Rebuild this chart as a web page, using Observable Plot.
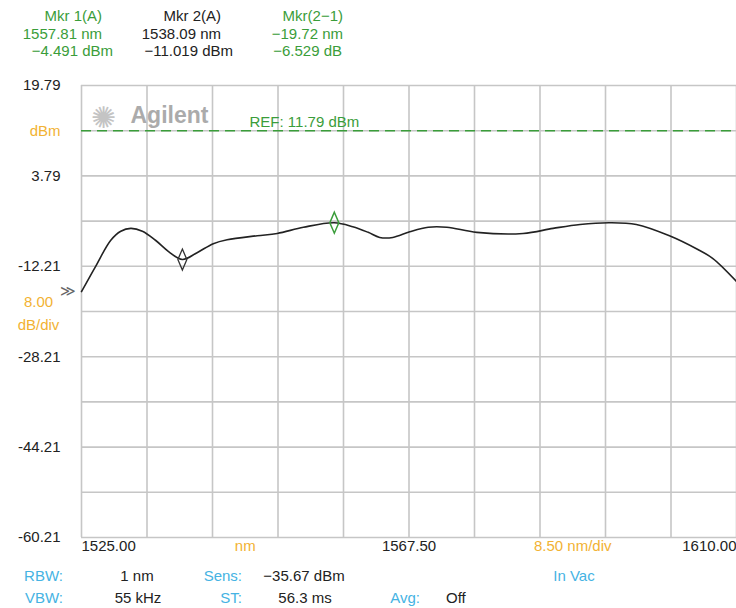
<!DOCTYPE html>
<html><head><meta charset="utf-8">
<script src="https://cdn.jsdelivr.net/npm/d3@7"></script>
<script src="https://cdn.jsdelivr.net/npm/@observablehq/plot@0.6"></script>
<style>
body{margin:0;background:#fff;font-family:"Liberation Sans",Arial,sans-serif;}
#wrap{position:relative;width:736px;height:608px;overflow:hidden;background:#fff;}
#chart{position:absolute;left:0;top:0;}
.t{position:absolute;white-space:nowrap;font-size:15px;line-height:1;transform:translateY(-50%);}
</style></head><body><div id="wrap"><div id="chart"></div></div>
<script>
// ---- data ----
const wavelength = [1525.0, 1526.8, 1528.8, 1530.1, 1531.4, 1532.9, 1534.6, 1536.3, 1538.1, 1540.0, 1542.1, 1543.9, 1547.8, 1550.4, 1553.8, 1557.8, 1560.2, 1562.2, 1563.7, 1565.4, 1567.6, 1570.0, 1572.4, 1576.3, 1582.3, 1586.2, 1589.7, 1593.5, 1597.0, 1601.3, 1604.8, 1606.9, 1610.0];
const power = [-16.7, -12.3, -7.6, -6.0, -5.5, -6.0, -7.6, -9.6, -11.0, -9.8, -8.2, -7.5, -6.8, -6.4, -5.3, -4.5, -5.2, -6.2, -7.1, -7.1, -6.1, -5.3, -5.3, -6.2, -6.4, -5.5, -4.8, -4.5, -4.8, -6.8, -9.1, -10.8, -14.9];
const markerNames = ["Mkr 1(A)", "Mkr 2(A)"];
const markerWavelength = [1557.81, 1538.09];
const markerPower = [-4.491, -11.019];
const deltaName = "Mkr(2−1)";
const deltaWavelength = -19.72;
const deltaPower = -6.529;
const refLevel = 11.79;
const xGridValues = [1525, 1533.5, 1542, 1550.5, 1559, 1567.5, 1576, 1584.5, 1593, 1601.5, 1610];
const yGridValues = [19.79, 11.79, 3.79, -4.21, -12.21, -20.21, -28.21, -36.21, -44.21, -52.21, -60.21];
const yTickValues = [19.79, 3.79, -12.21, -28.21, -44.21, -60.21];
const xTickValues = [1525, 1567.5, 1610];
const xUnitLabel = "nm";
const xScaleLabel = "8.50 nm/div";
const yUnitLabel = "dBm";
const yScaleLabel = "8.00\ndB/div";
const settings = {rbw: "1 nm", vbw: "55 kHz", sens: "−35.67 dBm", st: "56.3 ms", avg: "Off", medium: "In Vac"};

// ---- styles ----
const GREEN = "#3a9d3a", ORANGE = "#f2b233", BLUE = "#45b3e3", GRID = "#c6c6c6", INK = "#222";

const data = wavelength.map((w, i) => ({w, p: power[i]}));
const markers = markerWavelength.map((w, i) => ({w, p: markerPower[i]}));

const tallDiamond = {
  draw(ctx, size) {
    const r = Math.sqrt(size / Math.PI);
    ctx.moveTo(0, -2.1 * r); ctx.lineTo(0.9 * r, 0); ctx.lineTo(0, 2.1 * r); ctx.lineTo(-0.9 * r, 0); ctx.closePath();
  }
};

const chart = Plot.plot({
  width: 736, height: 608,
  marginLeft: 81, marginRight: 0, marginTop: 85, marginBottom: 71,
  x: {domain: [1525, 1610], axis: null},
  y: {domain: [-60.21, 19.79], axis: null},
  style: {fontFamily: "'Liberation Sans', Arial, sans-serif", fontSize: "15px", color: INK, background: "transparent", overflow: "visible"},
  marks: [
    Plot.gridX(xGridValues, {stroke: GRID, strokeOpacity: 1, strokeWidth: 1.6}),
    Plot.gridY(yGridValues, {stroke: GRID, strokeOpacity: 1, strokeWidth: 1.6}),
    Plot.text(["✺"], {frameAnchor: "top-left", dx: 22, dy: 21, fontSize: 30, fill: "#c4c4c4", textAnchor: "middle"}),
    Plot.text(["Agilent"], {frameAnchor: "top-left", dx: 49, dy: 21, fontSize: 23, fontWeight: "bold", fill: "#ababab", textAnchor: "start"}),
    Plot.ruleY([refLevel], {stroke: GREEN, strokeDasharray: "10,6", strokeWidth: 1.6}),
    Plot.text([`REF: ${refLevel.toFixed(2)} dBm`], {x: 1546.8, y: refLevel, dy: -9, textAnchor: "start", fill: GREEN, fontSize: 15}),
    Plot.line(data, {x: "w", y: "p", curve: "catmull-rom", stroke: INK, strokeWidth: 1.6}),
    Plot.dot(markers.slice(1), {x: "w", y: "p", symbol: tallDiamond, r: 5, stroke: "#333", strokeWidth: 1.3, fill: "none"}),
    Plot.dot(markers.slice(0, 1), {x: "w", y: "p", symbol: tallDiamond, r: 5, stroke: GREEN, strokeWidth: 1.5, fill: "none"}),
    Plot.axisY(yTickValues, {tickSize: 0, tickPadding: 21, tickFormat: d => d.toFixed(2), label: null, fontSize: 15}),
    Plot.text([yUnitLabel], {y: refLevel, frameAnchor: "left", dx: -21, textAnchor: "end", fill: ORANGE, fontSize: 15}),
    Plot.text([yScaleLabel], {y: -20.21, frameAnchor: "left", dx: -43, textAnchor: "middle", fill: ORANGE, fontSize: 15, lineHeight: 1.5}),
    Plot.text(["≫"], {y: power[0], frameAnchor: "left", dx: -6, textAnchor: "end", fill: "#666", fontSize: 15}),
    Plot.text([xTickValues[0]], {x: d => d, frameAnchor: "bottom", dy: 13, textAnchor: "start", text: d => d.toFixed(2), fontSize: 15}),
    Plot.text([xTickValues[1]], {x: d => d, frameAnchor: "bottom", dy: 13, textAnchor: "middle", text: d => d.toFixed(2), fontSize: 15}),
    Plot.text([xTickValues[2]], {x: d => d, frameAnchor: "bottom", dy: 13, textAnchor: "end", text: d => d.toFixed(2), fontSize: 15}),
    Plot.text([xUnitLabel], {x: 1546.25, frameAnchor: "bottom", dy: 13, textAnchor: "middle", fill: ORANGE, fontSize: 15}),
    Plot.text([xScaleLabel], {x: 1588.75, frameAnchor: "bottom", dy: 13, textAnchor: "middle", fill: ORANGE, fontSize: 15})
  ]
});
document.getElementById("chart").appendChild(chart);

// ---- header & footer annotations ----
const wrap = document.getElementById("wrap");
function put(text, x, y, anchor, color) {
  const s = document.createElement("span");
  s.className = "t";
  s.textContent = text;
  s.style.top = y + "px";
  s.style.color = color;
  if (anchor === "start") s.style.left = x + "px";
  else if (anchor === "end") s.style.right = (736 - x) + "px";
  else { s.style.left = x + "px"; s.style.transform = "translate(-50%,-50%)"; }
  wrap.appendChild(s);
}
const fmtDbm = v => (v < 0 ? "−" : "") + Math.abs(v).toFixed(3);
// marker 1
put(markerNames[0], 102, 15, "end", GREEN);
put(markerWavelength[0].toFixed(2) + " nm", 102, 33, "end", GREEN);
put(fmtDbm(markerPower[0]) + " dBm", 113, 50, "end", GREEN);
// marker 2
put(markerNames[1], 221, 15, "end", INK);
put(markerWavelength[1].toFixed(2) + " nm", 221, 33, "end", INK);
put(fmtDbm(markerPower[1]) + " dBm", 233, 50, "end", INK);
// delta
put(deltaName, 343, 15, "end", GREEN);
put("−" + Math.abs(deltaWavelength).toFixed(2) + " nm", 343, 33, "end", GREEN);
put(fmtDbm(deltaPower) + " dB", 342, 50, "end", GREEN);
// footer
put("RBW:", 63, 575, "end", BLUE);
put(settings.rbw, 137, 575, "middle", INK);
put("Sens:", 242, 575, "end", BLUE);
put(settings.sens, 304, 575, "middle", INK);
put(settings.medium, 574, 575, "middle", BLUE);
put("VBW:", 63, 597, "end", BLUE);
put(settings.vbw, 138, 597, "middle", INK);
put("ST:", 242, 597, "end", BLUE);
put(settings.st, 305, 597, "middle", INK);
put("Avg:", 420, 597, "end", BLUE);
put(settings.avg, 446, 597, "start", INK);
</script></body></html>
